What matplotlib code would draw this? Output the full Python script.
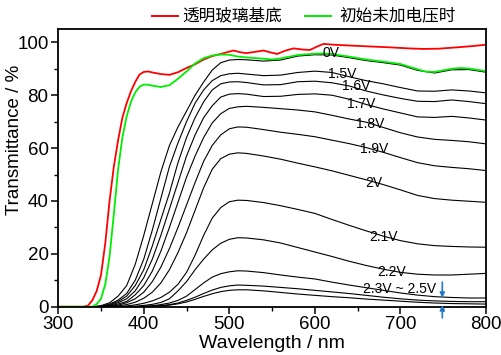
import matplotlib
matplotlib.use("Agg")
import matplotlib.pyplot as plt
from matplotlib.lines import Line2D
from matplotlib.ticker import MultipleLocator

plt.rcParams['font.family'] = ['Liberation Sans', 'DejaVu Sans']

# ---- data -------------------------------------------------------------
wl = [300, 340, 350, 360, 370, 380, 390, 400, 410, 420, 430, 440, 450, 460,
      470, 480, 490, 500, 510, 520, 540, 560, 580, 600, 620, 640, 660, 680,
      700, 720, 740, 760, 780, 800]

T_0V = [0, 0, 0.4, 1.5, 4, 8, 16, 27, 39, 51, 61, 68, 74, 80, 85, 89.5, 92.3,
        93.3, 93.5, 93.4, 92.9, 93.3, 94.8, 95.3, 95.2, 94.2, 93.1, 92.3, 91.4,
        89.4, 88.4, 89.6, 89.7, 88.7]
T_15 = [0, 0, 0.2, 1, 2.5, 5, 10, 18, 29, 41, 53, 62, 70, 77, 82, 85.5, 87.4,
        88.1, 88.3, 88, 87.4, 87.6, 88.6, 89.1, 88.6, 87.0, 85.5, 84.3, 82.9,
        81.6, 81.5, 82, 81.6, 80.9]
T_16 = [0, 0, 0, 0.7, 2, 4, 8, 14, 23, 33, 43, 54.5, 64, 71.5, 77.5, 82, 84.3,
        85, 85.1, 84.8, 83.9, 84, 85.1, 85.3, 84.7, 83.5, 81.6, 80.1, 78.8,
        77.7, 77.6, 78.2, 77.6, 76.8]
T_17 = [0, 0, 0, 0.5, 1.5, 3, 6, 11, 18, 27, 37, 47, 57, 65, 71.5, 76, 79.3,
        80.4, 80.6, 80.4, 79.5, 79.6, 80.3, 80.5, 80, 78.5, 76.5, 74.8, 73.3,
        71.8, 71.6, 72, 71.4, 70.6]
T_18 = [0, 0, 0, 0.3, 1, 2, 4.5, 8, 13.5, 21, 30, 39.5, 49, 57, 64, 69.5, 73,
        75, 75.6, 75.8, 75.4, 74.9, 74.4, 73.7, 72.4, 71, 69.8, 67.8, 65.8,
        64.2, 63.3, 62.9, 62.4, 61.6]
T_19 = [0, 0, 0, 0.2, 0.6, 1.5, 3, 5.5, 9.5, 15, 22, 30, 38.5, 47, 55, 61, 65,
        67.3, 68, 67.9, 67, 66, 65.2, 64.3, 63, 61.7, 60.2, 58.4, 56.4, 54.5,
        53.3, 52.7, 52.2, 51.5]
T_20 = [0, 0, 0, 0, 0.3, 0.8, 1.7, 3.2, 5.5, 9, 14, 20.5, 28, 36.5, 45, 52, 56,
        57.7, 58.2, 58, 57, 55.8, 54.3, 52.9, 51.4, 49.7, 48, 46.2, 44.2, 42.1,
        40.9, 40.3, 39.9, 39.5]
T_21 = [0, 0, 0, 0, 0, 0.3, 0.7, 1.3, 2.2, 3.5, 5.5, 8.5, 13, 19.5, 27, 33.5,
        37.5, 39.7, 40.3, 40.2, 39.4, 38.2, 36.8, 35.3, 33, 30.8, 28.7, 26.7,
        25, 23.8, 23.1, 22.8, 22.6, 22.5]
T_22 = [0, 0, 0, 0, 0, 0, 0.2, 0.5, 0.9, 1.6, 3, 6, 9.5, 14, 18, 21.5, 24,
        25.5, 26.1, 26, 25.3, 24.1, 22.4, 20.7, 19, 17.2, 15.6, 14.2, 13,
        12.3, 12, 12, 12.3, 12.6]
T_23 = [0, 0, 0, 0, 0, 0, 0, 0.2, 0.4, 0.8, 1.4, 2.4, 4, 6.5, 9, 11.2, 12.5,
        13.2, 13.6, 13.5, 12.9, 12, 11.2, 10.5, 9.3, 8.2, 7.2, 6.2, 5.2, 4.4,
        3.8, 3.5, 3.3, 3.3]
T_24 = [0, 0, 0, 0, 0, 0, 0, 0.1, 0.2, 0.4, 0.8, 1.4, 2.4, 3.6, 5, 6.3, 7.3,
        7.9, 8.2, 8.1, 7.8, 7.3, 6.8, 6.2, 5.6, 5.0, 4.3, 3.6, 3.0, 2.5, 2.2,
        2.0, 1.9, 1.9]
T_25 = [0, 0, 0, 0, 0, 0, 0, 0, 0.1, 0.3, 0.6, 1.1, 1.8, 2.8, 3.9, 4.9, 5.7,
        6.2, 6.4, 6.4, 6.0, 5.4, 4.8, 4.3, 3.8, 3.4, 2.9, 2.5, 2.1, 1.7, 1.4,
        1.2, 1.1, 1.0]

red_wl = [300, 330, 335, 340, 345, 350, 355, 360, 365, 370, 375, 380, 385, 390,
          395, 400, 405, 410, 420, 430, 440, 450, 460, 470, 480, 490, 500, 505,
          512, 520, 530, 540, 548, 556, 565, 575, 585, 594, 602, 610, 622, 640,
          660, 688, 710, 727, 745, 766, 785, 800]
red_T = [0, 0, 0.5, 2.5, 6, 12, 24, 40, 53, 63, 71.5, 77, 81.5, 85, 87.8, 88.8,
         89, 88.6, 88, 87.7, 88.7, 90.3, 91.7, 93.5, 94.8, 95.6, 96.5, 96.9,
         96.3, 95.9, 96.4, 96.9, 96.2, 95.6, 96.8, 97.7, 97.3, 97.1, 98.3, 99.4,
         99.1, 98.8, 98.5, 98.1, 97.7, 97.5, 97.6, 98.1, 98.6, 99.1]

green_wl = [300, 340, 345, 350, 355, 360, 365, 370, 375, 380, 385, 390, 395,
            400, 405, 410, 420, 430, 440, 450, 460, 470, 480, 490, 500, 510,
            520, 540, 550, 560, 580, 600, 610, 620, 640, 660, 680, 700, 720,
            730, 740, 760, 770, 780, 800]
green_T = [0, 0, 1, 3, 8.5, 19, 35, 52, 64, 72, 77.5, 81, 83.2, 84, 84, 83.6,
           83.1, 83.8, 86.2, 89, 92, 94, 95, 95.4, 95.3, 94.6, 94.3, 93.8, 93.5,
           93.9, 95.2, 95.7, 95.8, 95.6, 94.6, 93.5, 92.7, 91.8, 89.8, 88.9,
           88.8, 90, 90.3, 90.1, 89.1]

black_series = [T_0V, T_15, T_16, T_17, T_18, T_19, T_20, T_21, T_22, T_23,
                T_24, T_25]

labels = ["0V", "1.5V", "1.6V", "1.7V", "1.8V", "1.9V", "2V", "2.1V", "2.2V",
          "2.3V ~ 2.5V"]
label_x = [619, 632, 648, 654, 665, 669, 669, 680, 690, 699]
label_y = [96, 88.2, 83.3, 76.5, 69, 59.5, 46.7, 26.3, 13.1, 6.7]

legend_names = ["透明玻璃基底", "初始未加电压时"]

# ---- figure -----------------------------------------------------------
fig = plt.figure(figsize=(5.02, 3.55), dpi=100)
ax = fig.add_axes([0.116, 0.136, 0.852, 0.782])

for T in black_series:
    ax.plot(wl, T, color='black', lw=0.8)
ax.plot(red_wl, red_T, color='#ff0000', lw=1.3)
ax.plot(green_wl, green_T, color='#00ee00', lw=1.3)

for s, x, y in zip(labels, label_x, label_y):
    ax.text(x, y, s, ha='center', va='center', fontsize=10, color='black')

arrow_col = '#1f78c8'
ax.annotate('', xy=(749, 3.4), xytext=(749, 9.3),
            arrowprops=dict(arrowstyle='-|>', color=arrow_col, lw=1.2,
                            mutation_scale=7, shrinkA=0, shrinkB=0),
            annotation_clip=False)
ax.annotate('', xy=(749, 0.6), xytext=(749, -4.2),
            arrowprops=dict(arrowstyle='-|>', color=arrow_col, lw=1.2,
                            mutation_scale=7, shrinkA=0, shrinkB=0),
            annotation_clip=False)

ax.set_xlim(300, 800)
ax.set_ylim(0, 105)
ax.xaxis.set_major_locator(MultipleLocator(100))
ax.xaxis.set_minor_locator(MultipleLocator(50))
ax.yaxis.set_major_locator(MultipleLocator(20))
ax.yaxis.set_minor_locator(MultipleLocator(10))
ax.tick_params(which='major', direction='out', length=5, width=1.1,
               labelsize=13.5, pad=2)
ax.tick_params(which='minor', direction='out', length=3, width=1.0)
ax.tick_params(top=False, right=False)
for sp in ax.spines.values():
    sp.set_linewidth(1.3)

ax.set_xlabel("Wavelength / nm", fontsize=14, labelpad=1)
ax.set_ylabel("Transmittance / %", fontsize=13.5)
ax.yaxis.set_label_coords(-0.083, 0.6)

# legend above the axes
leg_colors = ['#ff0000', '#00ee00']
leg_line_x = [(152, 178), (305, 331)]
leg_text_x = [182, 339]
ly = 355 - 16
for name, c, (x0, x1), tx in zip(legend_names, leg_colors, leg_line_x, leg_text_x):
    fig.add_artist(Line2D([x0 / 502, x1 / 502], [ly / 355, ly / 355], color=c,
                          lw=1.4, transform=fig.transFigure))
    fig.text(tx / 502, ly / 355, name, ha='left', va='center', fontsize=12,
             family=['Noto Sans CJK SC', 'DejaVu Sans'])

fig.savefig("out.png", dpi=100)
